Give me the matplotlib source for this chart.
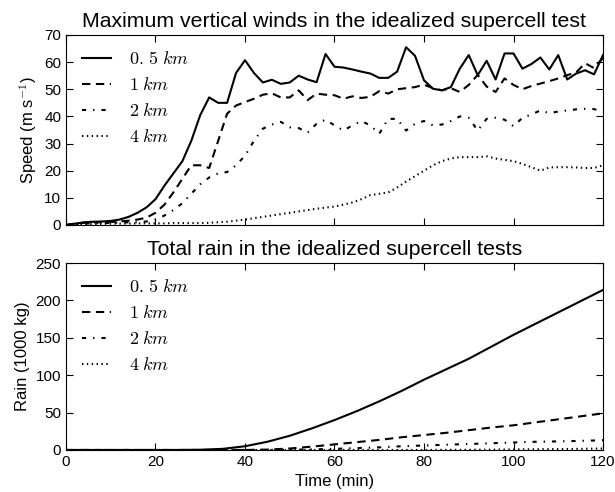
import numpy as np
import matplotlib
matplotlib.use('Agg')
import matplotlib.pyplot as plt

plt.rcParams['font.family'] = ['Liberation Sans', 'DejaVu Sans']
plt.rcParams['mathtext.fontset'] = 'cm'
plt.rcParams['lines.scale_dashes'] = False

# time axis (min), sampled every 2 min
time = np.arange(0, 121, 2)

# maximum vertical wind speed (m/s)
w_05km = [0, 0.5, 1, 1.2, 1.3, 1.5, 2, 3, 4.5, 6.5, 9.5, 14.5, 19, 23.5, 31, 40.5,
          47, 45, 45, 56, 60.7, 56, 52.5, 53.5, 52, 52.5, 55, 53.6, 52.6, 63, 58.3,
          58, 57.3, 56.5, 55.8, 54.2, 54.2, 56.5, 65.5, 62.3, 53.3, 50.2, 49.6, 50.8,
          57.6, 62.6, 55.2, 60.5, 53.6, 63.2, 63.2, 57.6, 59.3, 61.7, 57.3, 62.6,
          53.6, 55.8, 57, 55.5, 62.6]
w_1km = [0, 0.5, 0.8, 1, 1, 1.1, 1.3, 1.6, 2, 2.7, 4.5, 7.5, 12, 17, 22, 22,
         21, 31, 41, 44, 45.3, 46.5, 48, 48.5, 47, 47, 49.6, 46, 48.4, 48, 47.8,
         46.5, 47.4, 46.8, 47.2, 49.3, 48.4, 50, 50.4, 50.8, 51.7, 50.4, 49.6, 50.4,
         49, 51.6, 55.3, 51, 49, 54, 51.6, 50, 51.2, 52.1, 53, 54, 55.2, 56.2,
         59.6, 57.8, 61.5]
w_2km = [0, 0.3, 0.5, 0.6, 0.7, 0.8, 0.9, 1, 1, 1.3, 2, 3.5, 5.5, 8, 11.5, 15,
         17.5, 19, 19.5, 22, 25.5, 31, 35.5, 37, 38, 36, 35.7, 34, 37.3, 38.8, 36.7,
         34.8, 36.7, 38.3, 36.7, 33.6, 39.1, 39.1, 34.8, 37.3, 38.3, 36.7, 37, 38.3,
         40, 39.5, 34.8, 39.1, 39.5, 38.8, 36.4, 39.5, 40.7, 42.2, 41.2, 41.8, 42.2,
         42.6, 42.8, 42.7, 41.6]
w_4km = [0, 0.2, 0.3, 0.4, 0.4, 0.5, 0.5, 0.5, 0.6, 0.6, 0.6, 0.6, 0.7, 0.7, 0.7, 0.7,
         0.8, 1, 1.2, 1.6, 2, 2.5, 3, 3.5, 4, 4.5, 5, 5.5, 6, 6.4, 6.8,
         7.5, 8.3, 9.5, 11, 11.5, 12, 13.8, 16, 18, 20, 22, 23.5, 24.5,
         25, 25, 25, 25.3, 24.5, 24, 23.5, 22.5, 21.3, 20, 21.2, 21.3, 21.3,
         21.2, 21, 21, 22]

# total rain (1000 kg), sampled every 5 min
rain_time = np.arange(0, 121, 5)
rain_05km = [0, 0, 0, 0, 0, 0, 0.3, 1.5, 5, 11, 19, 29, 40, 52, 65, 79, 94, 108,
             122, 138, 154, 169, 184, 199, 214]
rain_1km = [0, 0, 0, 0, 0, 0, 0, 0, 0, 0.5, 2, 4.5, 7.5, 10.5, 13.5, 17, 20, 23,
            26.5, 30, 33, 37, 41, 45, 49]
rain_2km = [0, 0, 0, 0, 0, 0, 0, 0, 0, 0, 0.3, 0.8, 1.5, 2.5, 3.5, 5, 6, 7, 8,
            9, 10, 11, 11.5, 12.2, 13]
rain_4km = [0, 0, 0, 0, 0, 0, 0, 0, 0, 0, 0, 0, 0, 0, 0, 0, 0, 0.2, 0.3, 0.5,
            0.8, 1, 1.2, 1.5, 2]

labels = [r'$0.\,5\;km$', r'$1\;km$', r'$2\;km$', r'$4\;km$']
dash_patterns = [None, (6, 4), (3, 5, 1, 5), (1, 2.5)]

fig = plt.figure(figsize=(6.15, 4.92), dpi=100)
ax1 = fig.add_axes([0.1073, 0.5427, 0.8732, 0.3862])
ax2 = fig.add_axes([0.1073, 0.0854, 0.8732, 0.3800])


def draw(ax, x, series_list):
    for series, dash, lab in zip(series_list, dash_patterns, labels):
        line, = ax.plot(x, series, color='black', linewidth=1.5, label=lab)
        if dash is not None:
            line.set_dashes(dash)


draw(ax1, time, [w_05km, w_1km, w_2km, w_4km])
ax1.set_xlim(0, 120)
ax1.set_ylim(0, 70)
ax1.set_yticks(np.arange(0, 71, 10))
ax1.set_xticklabels([])
ax1.set_ylabel(r'Speed (m s$^{-1}$)', fontsize=12)
ax1.set_title('Maximum vertical winds in the idealized supercell test', fontsize=15.3)
ax1.legend(loc='upper left', frameon=False, fontsize=13, handlelength=1.6,
           handletextpad=1.0)

draw(ax2, rain_time, [rain_05km, rain_1km, rain_2km, rain_4km])
ax2.set_xlim(0, 120)
ax2.set_ylim(0, 250)
ax2.set_xlabel('Time (min)', fontsize=12)
ax2.set_ylabel('Rain (1000 kg)', fontsize=12)
ax2.set_title('Total rain in the idealized supercell tests', fontsize=15.3)
ax2.legend(loc='upper left', frameon=False, fontsize=13, handlelength=1.6,
           handletextpad=1.0)

for ax in (ax1, ax2):
    ax.tick_params(direction='in', top=True, right=True, labelsize=11, length=5)

plt.savefig('out.png', dpi=100)
